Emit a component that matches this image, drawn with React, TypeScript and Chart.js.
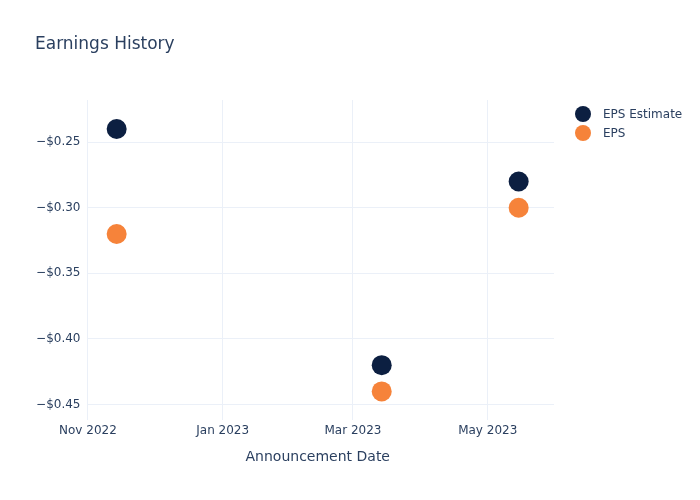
import React, { useEffect, useRef } from "react";
import { Chart, registerables } from "chart.js";

Chart.register(...registerables);

const announcementDates = ["2022-11-14", "2023-03-14", "2023-05-15"];
const epsEstimate = [-0.24, -0.42, -0.28];
const epsActual = [-0.32, -0.44, -0.3];
const xTickDates = ["2022-11-01", "2023-01-01", "2023-03-01", "2023-05-01"];
const yTickValues = [-0.45, -0.4, -0.35, -0.3, -0.25];
const seriesNames = ["EPS Estimate", "EPS"];
const seriesColors = ["#0c1f41", "#f6833a"];

const DAY = 86400000;
const toTs = (s: string) => {
  const [y, m, d] = s.split("-").map(Number);
  return Date.UTC(y, m - 1, d);
};
const MONTHS = ["Jan", "Feb", "Mar", "Apr", "May", "Jun", "Jul", "Aug", "Sep", "Oct", "Nov", "Dec"];
const FONT = "'DejaVu Sans', 'Open Sans', sans-serif";
const TEXT = "#2a3f5f";
const GRID = "#ebf0f8";

const overlay = {
  id: "overlay",
  afterDraw(chart: any) {
    const ctx = chart.ctx;
    const ca = chart.chartArea;
    ctx.save();
    ctx.fillStyle = TEXT;
    ctx.font = `17px ${FONT}`;
    ctx.textAlign = "left";
    ctx.textBaseline = "middle";
    ctx.fillText("Earnings History", 35, 45);

    ctx.font = `14px ${FONT}`;
    ctx.textAlign = "center";
    ctx.fillText("Announcement Date", (ca.left + ca.right) / 2 - 3, 457);

    ctx.font = `12px ${FONT}`;
    ctx.textAlign = "left";
    seriesNames.forEach((name, i) => {
      const y = 114 + i * 19;
      ctx.beginPath();
      ctx.fillStyle = seriesColors[i];
      ctx.arc(583, y, 8, 0, Math.PI * 2);
      ctx.fill();
      ctx.fillStyle = TEXT;
      ctx.fillText(name, 603, y + 1);
    });
    ctx.restore();
  },
};

export default function App() {
  const ref = useRef<HTMLCanvasElement | null>(null);
  useEffect(() => {
    document.body.style.margin = "0";
    const xs = announcementDates.map(toTs);
    const chart = new Chart(ref.current as HTMLCanvasElement, {
      type: "scatter",
      data: {
        datasets: [
          {
            label: seriesNames[0],
            data: xs.map((x, i) => ({ x, y: epsEstimate[i] })),
            backgroundColor: seriesColors[0],
            borderColor: seriesColors[0],
            pointRadius: 10,
            pointHoverRadius: 10,
            borderWidth: 0,
          },
          {
            label: seriesNames[1],
            data: xs.map((x, i) => ({ x, y: epsActual[i] })),
            backgroundColor: seriesColors[1],
            borderColor: seriesColors[1],
            pointRadius: 10,
            pointHoverRadius: 10,
            borderWidth: 0,
          },
        ],
      },
      options: {
        responsive: false,
        animation: false,
        layout: { padding: { top: 100, right: 146, left: 0, bottom: 0 } },
        plugins: {
          legend: { display: false },
          title: { display: false },
          tooltip: { enabled: false },
        },
        scales: {
          x: {
            type: "linear",
            min: toTs(xTickDates[0]) - 0.2 * DAY,
            max: toTs(xTickDates[0]) + 211 * DAY,
            afterFit: (s: any) => {
              s.height = 80;
            },
            afterBuildTicks: (s: any) => {
              s.ticks = xTickDates.map((d) => ({ value: toTs(d) }));
            },
            grid: { color: GRID, lineWidth: 1, drawTicks: false },
            border: { display: false },
            ticks: {
              padding: 4,
              color: TEXT,
              font: { family: FONT, size: 12 },
              maxRotation: 0,
              callback: (v: any) => {
                const d = new Date(Number(v));
                return `${MONTHS[d.getUTCMonth()]} ${d.getUTCFullYear()}`;
              },
            },
          },
          y: {
            type: "linear",
            min: -0.4618,
            max: -0.2179,
            afterFit: (s: any) => {
              s.width = 87.5;
            },
            afterBuildTicks: (s: any) => {
              s.ticks = yTickValues.map((v) => ({ value: v }));
            },
            grid: { color: GRID, lineWidth: 1, drawTicks: false },
            border: { display: false },
            ticks: {
              padding: 7,
              color: TEXT,
              font: { family: FONT, size: 12 },
              callback: (v: any) => {
                const n = Number(v);
                return (n < 0 ? "\u2212" : "") + "$" + Math.abs(n).toFixed(2);
              },
            },
          },
        },
      },
      plugins: [overlay],
    } as any);
    return () => chart.destroy();
  }, []);
  return (
    <div style={{ width: 700, height: 500 }}>
      <canvas ref={ref} width={700} height={500} />
    </div>
  );
}
